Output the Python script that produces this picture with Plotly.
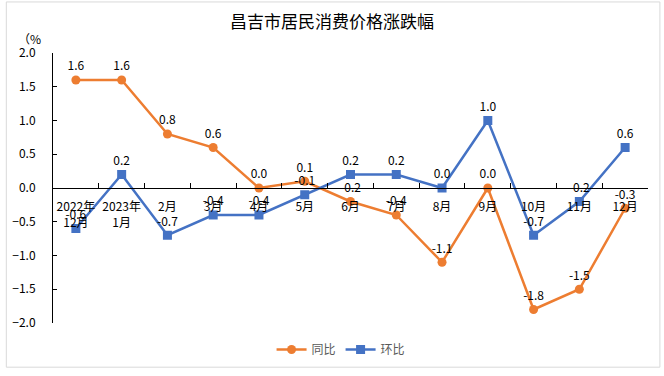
import plotly.graph_objects as go

categories = ["2022年<br>12月", "2023年<br>1月", "2月", "3月", "4月", "5月", "6月",
              "7月", "8月", "9月", "10月", "11月", "12月"]
tongbi = [1.6, 1.6, 0.8, 0.6, 0.0, 0.1, -0.2, -0.4, -1.1, 0.0, -1.8, -1.5, -0.3]
huanbi = [-0.6, 0.2, -0.7, -0.4, -0.4, -0.1, 0.2, 0.2, 0.0, 1.0, -0.7, -0.2, 0.6]
y_ticks = [2.0, 1.5, 1.0, 0.5, 0.0, -0.5, -1.0, -1.5, -2.0]

FONT = "Noto Sans CJK SC"
ORANGE = "#ED7D31"
BLUE = "#4472C4"

fig = go.Figure()
fig.add_trace(go.Scatter(
    x=categories, y=tongbi, name="同比", mode="lines+markers+text",
    line=dict(color=ORANGE, width=2.5),
    marker=dict(symbol="circle", size=9, color=ORANGE),
    text=[f"{v:.1f}" for v in tongbi], textposition="top center",
    textfont=dict(size=12, color="#000000", family=FONT),
    cliponaxis=False,
))
fig.add_trace(go.Scatter(
    x=categories, y=huanbi, name="环比", mode="lines+markers+text",
    line=dict(color=BLUE, width=2.5),
    marker=dict(symbol="square", size=9, color=BLUE),
    text=[f"{v:.1f}" for v in huanbi], textposition="top center",
    textfont=dict(size=12, color="#000000", family=FONT),
    cliponaxis=False,
))

L, R, T, B = 49, 16, 53, 48
W, H = 664, 376
pw = W - L - R
ph = H - T - B

fig.update_layout(
    width=W, height=H,
    margin=dict(l=L, r=R, t=T, b=B),
    paper_bgcolor="white", plot_bgcolor="white",
    font=dict(family=FONT, size=12, color="#000000"),
    title=dict(text="昌吉市居民消费价格涨跌幅", x=0.5, xanchor="center",
               y=1 - 22 / H, yanchor="middle",
               font=dict(size=17, color="#000000", family=FONT)),
    showlegend=True,
    legend=dict(orientation="h", x=(339 - L) / pw, xanchor="center",
                y=-(355 - (H - B)) / ph, yanchor="middle",
                font=dict(size=12, color="#595959", family=FONT),
                itemwidth=30, traceorder="normal"),
    xaxis=dict(
        type="category", anchor="free", position=0.5,
        showline=True, linecolor="#000000", linewidth=1,
        ticks="inside", ticklen=5, tickcolor="#000000",
        tickson="boundaries", showgrid=False, zeroline=False,
        ticklabelstandoff=8, tickangle=0,
        tickfont=dict(size=12, color="#000000", family=FONT),
        range=[-0.5, len(categories) - 0.5],
    ),
    yaxis=dict(
        range=[-2.0, 2.0], tickvals=y_ticks, tickformat=".1f",
        showline=True, linecolor="#000000", linewidth=1,
        ticks="inside", ticklen=4, tickcolor="#000000",
        ticklabelstandoff=14,
        showgrid=False, zeroline=False,
        tickfont=dict(size=12, color="#000000", family=FONT),
    ),
    annotations=[dict(text="（%", xref="paper", yref="paper",
                      x=-(L - 12) / pw, y=1 + (T - 38) / ph,
                      xanchor="left", yanchor="middle", showarrow=False,
                      font=dict(size=12, color="#000000", family=FONT))],
    shapes=[dict(type="rect", xref="paper", yref="paper",
                 x0=-(L - 2) / pw, x1=1 + (R - 4) / pw,
                 y0=-(B - 3) / ph, y1=1 + (T - 1) / ph,
                 line=dict(color="#D9D9D9", width=1), fillcolor="rgba(0,0,0,0)")],
)

fig.write_html("out.html", config={"displayModeBar": False},
               post_script="document.body.style.margin='0';document.body.style.overflow='hidden';")
